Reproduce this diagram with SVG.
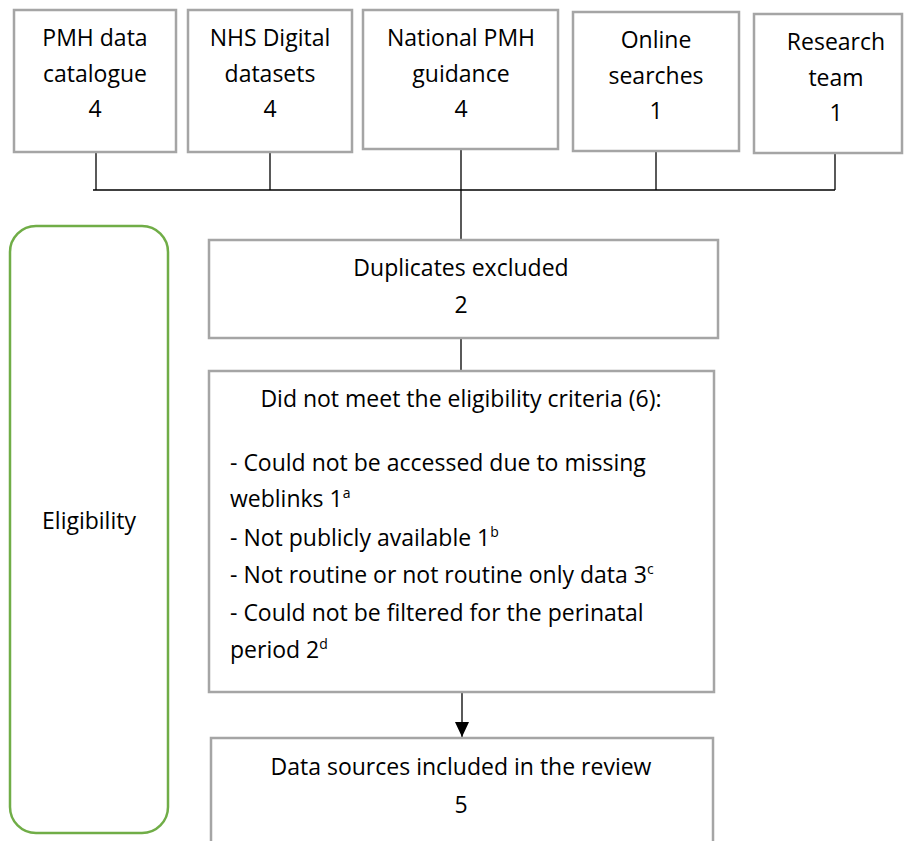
<svg xmlns="http://www.w3.org/2000/svg" width="905" height="841" viewBox="0 0 905 841">
<style>
.box{fill:#fff;stroke:#A5A5A5;stroke-width:2.5}
.t{font-family:"Open Sans",Lato,sans-serif;font-size:23px;fill:#000}
.c{text-anchor:middle}
.ln{stroke:#000;stroke-width:1.3;fill:none}
.sup{font-size:14px}
</style>
<defs>
<marker id="ah" markerWidth="15" markerHeight="14" refX="15" refY="7" orient="auto" markerUnits="userSpaceOnUse" viewBox="0 0 15 14">
<path d="M0,0 L15,7 L0,14 Z" fill="#000"/>
</marker>
</defs>
<rect width="905" height="841" fill="#fff"/>
<g id="connectors">
<line class="ln" x1="96" y1="152" x2="96" y2="190"/>
<line class="ln" x1="270" y1="152" x2="270" y2="190"/>
<line class="ln" x1="461" y1="150" x2="461" y2="240"/>
<line class="ln" x1="656" y1="152" x2="656" y2="190"/>
<line class="ln" x1="835" y1="153" x2="835" y2="190"/>
<line class="ln" x1="93" y1="190" x2="835" y2="190"/>
<line class="ln" x1="461" y1="338" x2="461" y2="371"/>
<line class="ln" x1="462" y1="692" x2="462" y2="737" marker-end="url(#ah)"/>
</g>
<g id="pmh-catalogue">
<rect class="box" x="14" y="10" width="162" height="142"/>
<text class="t c" x="95" y="46">PMH data</text>
<text class="t c" x="95" y="82">catalogue</text>
<text class="t c" x="95" y="117">4</text>
</g>
<g id="nhs-digital">
<rect class="box" x="188" y="10" width="164" height="142"/>
<text class="t c" x="270" y="46">NHS Digital</text>
<text class="t c" x="270" y="82">datasets</text>
<text class="t c" x="270" y="117">4</text>
</g>
<g id="national-guidance">
<rect class="box" x="363" y="10" width="195" height="139"/>
<text class="t c" x="461" y="46">National PMH</text>
<text class="t c" x="461" y="82">guidance</text>
<text class="t c" x="461" y="117">4</text>
</g>
<g id="online-searches">
<rect class="box" x="573" y="12" width="166" height="139"/>
<text class="t c" x="656" y="48">Online</text>
<text class="t c" x="656" y="84">searches</text>
<text class="t c" x="656" y="119">1</text>
</g>
<g id="research-team">
<rect class="box" x="754" y="14" width="148" height="139"/>
<text class="t c" x="836" y="50">Research</text>
<text class="t c" x="836" y="86">team</text>
<text class="t c" x="836" y="121">1</text>
</g>
<g id="eligibility">
<rect x="10" y="226" width="158" height="607" rx="26" ry="26" fill="#fff" stroke="#70AD47" stroke-width="2.5"/>
<text class="t c" x="89" y="529">Eligibility</text>
</g>
<g id="duplicates">
<rect class="box" x="209" y="240" width="509" height="98"/>
<text class="t c" x="461" y="276">Duplicates excluded</text>
<text class="t c" x="461" y="313">2</text>
</g>
<g id="criteria">
<rect class="box" x="209" y="371" width="505" height="321"/>
<text class="t c" x="461" y="407">Did not meet the eligibility criteria (6):</text>
<text class="t" x="230" y="471">- Could not be accessed due to missing</text>
<text class="t" x="230" y="507">weblinks 1<tspan class="sup" dy="-9">a</tspan></text>
<text class="t" x="230" y="546">- Not publicly available 1<tspan class="sup" dy="-9">b</tspan></text>
<text class="t" x="230" y="583">- Not routine or not routine only data 3<tspan class="sup" dy="-9">c</tspan></text>
<text class="t" x="230" y="621">- Could not be filtered for the perinatal</text>
<text class="t" x="230" y="658">period 2<tspan class="sup" dy="-9">d</tspan></text>
</g>
<g id="included">
<rect class="box" x="211" y="738" width="502" height="120"/>
<text class="t c" x="461" y="775">Data sources included in the review</text>
<text class="t c" x="461" y="813">5</text>
</g>
</svg>
